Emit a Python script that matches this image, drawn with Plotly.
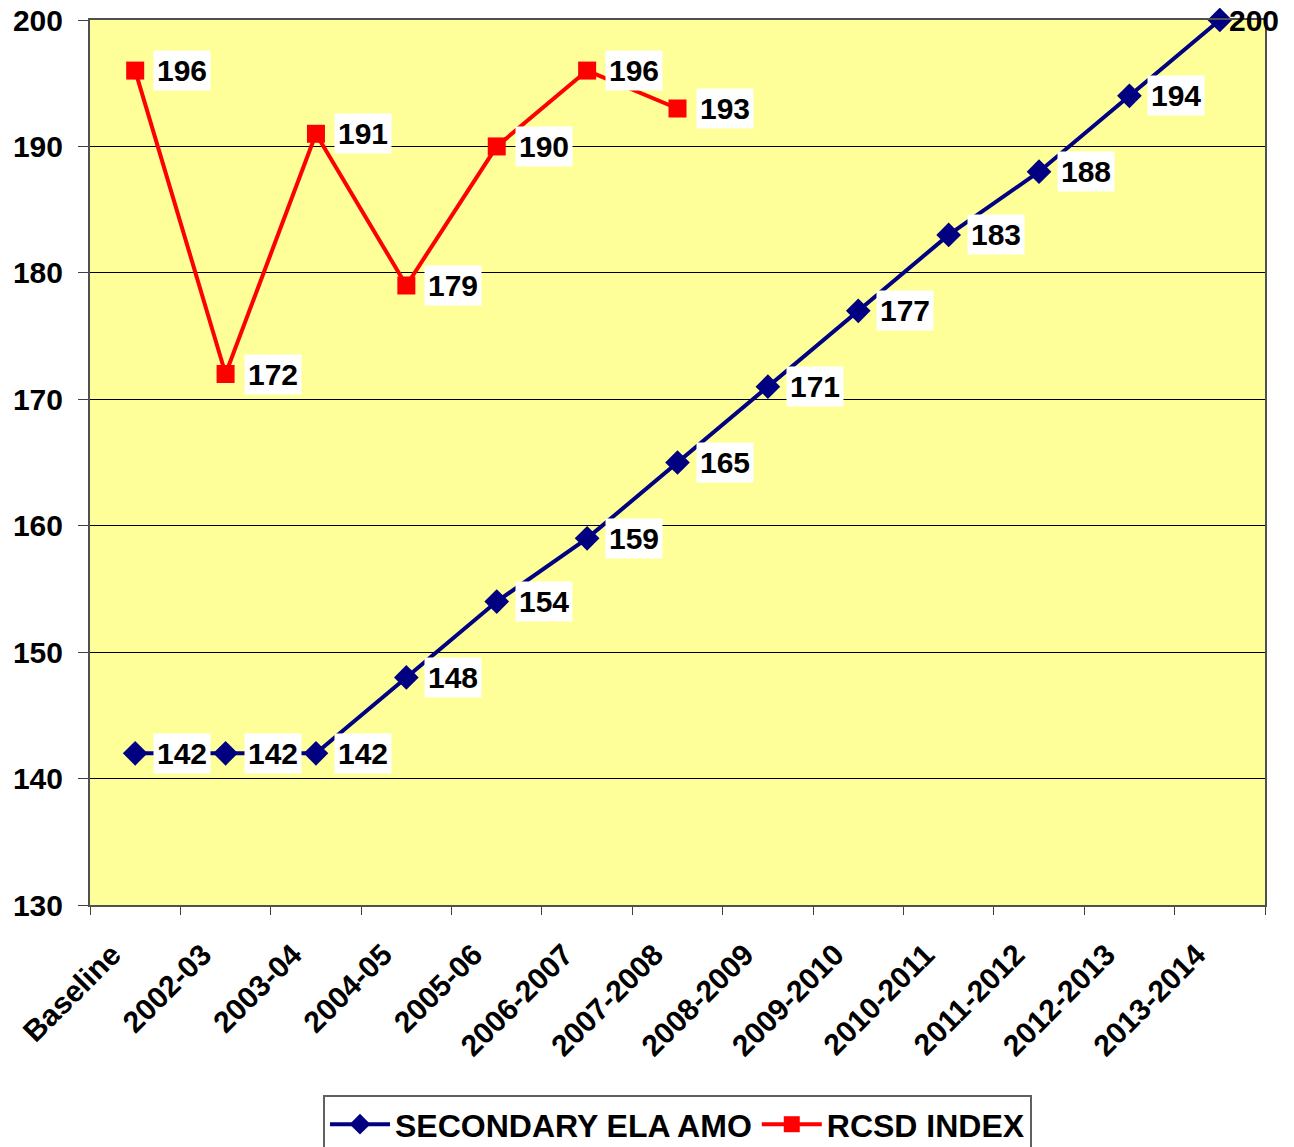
import plotly.graph_objects as go

categories = ["Baseline", "2002-03", "2003-04", "2004-05", "2005-06", "2006-2007",
              "2007-2008", "2008-2009", "2009-2010", "2010-2011", "2011-2012",
              "2012-2013", "2013-2014"]
amo_values = [142, 142, 142, 148, 154, 159, 165, 171, 177, 183, 188, 194, 200]
rcsd_categories = categories[:7]
rcsd_values = [196, 172, 191, 179, 190, 196, 193]
y_ticks = [130, 140, 150, 160, 170, 180, 190, 200]

FONT = "Liberation Sans, Arial, sans-serif"

fig = go.Figure()
fig.add_trace(go.Scatter(
    x=categories, y=amo_values, name="<b>SECONDARY ELA AMO</b>", mode="lines+markers",
    line=dict(color="#000080", width=4),
    marker=dict(symbol="diamond", size=19, color="#000080"),
    cliponaxis=False,
))
fig.add_trace(go.Scatter(
    x=rcsd_categories, y=rcsd_values, name="<b>RCSD INDEX</b>", mode="lines+markers",
    line=dict(color="#FF0000", width=4),
    marker=dict(symbol="square", size=18, color="#FF0000"),
    cliponaxis=False,
))

annotations = []
for cat, v in list(zip(categories, amo_values)) + list(zip(rcsd_categories, rcsd_values)):
    last = (cat == categories[-1] and v == amo_values[-1])
    annotations.append(dict(
        x=cat, y=v, xref="x", yref="y", text="<b>%d</b>" % v, showarrow=False,
        xanchor="left", yanchor="middle", xshift=5 if last else 18,
        font=dict(family=FONT, size=30, color="black"),
        bgcolor="rgba(0,0,0,0)" if last else "white", borderpad=3,
    ))

# the page body has an 8px default margin, so margins are offset accordingly
fig.update_layout(
    width=1294, height=1147,
    margin=dict(l=82, r=37, t=12, b=250, autoexpand=False),
    paper_bgcolor="white", plot_bgcolor="#FFFF99",
    font=dict(family=FONT, size=30, color="black"),
    showlegend=True,
    legend=dict(
        orientation="h", x=0.5, xanchor="center", y=-0.2146, yanchor="top",
        bordercolor="#606060", borderwidth=2, bgcolor="white",
        font=dict(family=FONT, size=32, color="black"),
        itemwidth=60, tracegroupgap=0,
    ),
    annotations=annotations,
)
fig.update_xaxes(
    type="category", categoryorder="array", categoryarray=categories,
    range=[-0.5, len(categories) - 0.5], automargin=False,
    tickmode="array", tickvals=categories, ticktext=["<b>%s</b>" % c for c in categories],
    tickangle=-45, tickson="boundaries", ticks="outside", ticklen=8, tickcolor="#404040",
    ticklabelshift=-23, ticklabelstandoff=18, ticklabeloverflow="allow",
    showgrid=False, showline=True, linecolor="#505050", linewidth=2, mirror=True,
    tickfont=dict(family=FONT, size=30, color="black"),
)
fig.update_yaxes(
    range=[130, 200], tickmode="array", tickvals=y_ticks, automargin=False,
    ticktext=["<b>%d</b>" % t for t in y_ticks],
    ticks="outside", ticklen=10, tickcolor="#404040",
    ticklabelstandoff=9, ticklabeloverflow="allow",
    showgrid=True, gridcolor="black", gridwidth=1,
    showline=True, linecolor="#505050", linewidth=2, mirror=True,
    tickfont=dict(family=FONT, size=30, color="black"), zeroline=False,
)

fig.write_html("out.html")
